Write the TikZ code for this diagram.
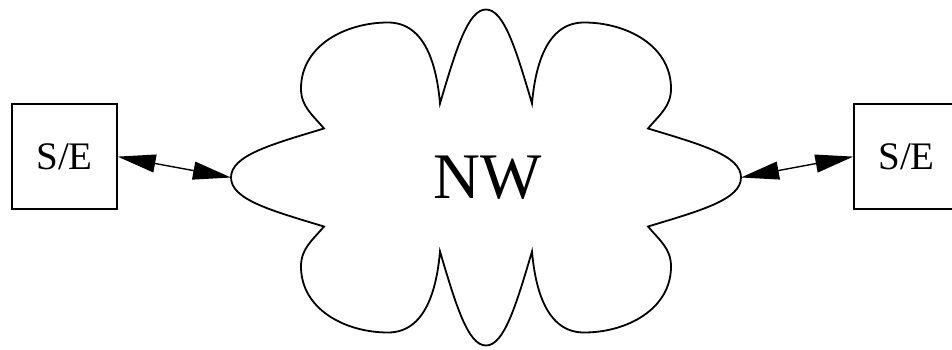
\documentclass[tikz,border=0pt]{standalone}
\usepackage{fontspec}
\setmainfont{Liberation Serif}
\usetikzlibrary{arrows.meta, positioning}

\begin{document}
\begin{tikzpicture}[
  x=1pt, y=1pt,
  sebox/.style={draw, line width=1.3pt, minimum width=105pt, minimum height=105pt, inner sep=0pt, font=\fontsize{39}{39}\selectfont},
  cloudline/.style={line width=1.8pt},
  link/.style={{Triangle[length=38pt,width=18pt]}-{Triangle[length=38pt,width=18pt]}, line width=1.4pt},
  nwlbl/.style={font=\fontsize{65}{65}\selectfont, inner sep=0pt},
]
\useasboundingbox (0,0) rectangle (952,349);
% the two end systems, the right one runs off the page
\node[sebox] (seL) at (64.5,192.4) {S/E};
\node[sebox] (seR) at (906.5,192.4) {S/E};
% the network cloud: eight lobes, symmetric about both axes
\begin{scope}[shift={(486,171.5)}]
\draw[cloudline] (-255,0)
  .. controls (-255,22) and (-215,33) .. (-162,49)
  to[out=130,in=270] (-185,89) to[out=90,in=180] (-98,155) to[out=0,in=95] (-46,74)
  .. controls (-30,128) and (-18,168) .. (0,168)
  .. controls (18,168) and (30,128) .. (46,74)
  to[out=85,in=180] (98,155) to[out=0,in=90] (185,89) to[out=270,in=50] (162,49)
  .. controls (215,33) and (255,22) .. (255,0)
  .. controls (255,-22) and (215,-33) .. (162,-49)
  to[out=-50,in=90] (185,-89) to[out=270,in=0] (98,-155) to[out=180,in=-85] (46,-74)
  .. controls (30,-128) and (18,-168) .. (0,-168)
  .. controls (-18,-168) and (-30,-128) .. (-46,-74)
  to[out=-95,in=0] (-98,-155) to[out=180,in=270] (-185,-89) to[out=90,in=-130] (-162,-49)
  .. controls (-215,-33) and (-255,-22) .. cycle;
\coordinate (nwW) at (-255,0);
\coordinate (nwE) at (255,0);
\node[nwlbl] (nw) at (2,0) {NW};
\end{scope}
% links
\draw[link] (seL.east) -- (nwW);
\draw[link] (nwE) -- (seR.west);
\end{tikzpicture}
\end{document}
